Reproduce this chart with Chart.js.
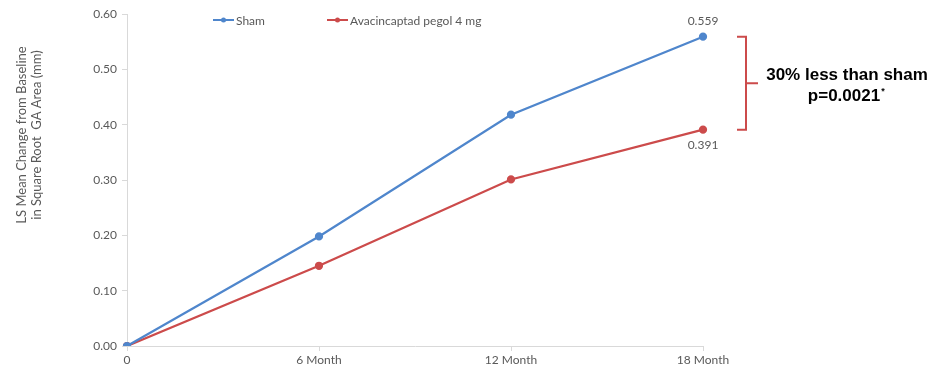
<!DOCTYPE html>
<html><head><meta charset="utf-8">
<script src="https://cdn.jsdelivr.net/npm/chart.js@4"></script>
<style>html,body{margin:0;padding:0;background:#fff}#wrap{width:930px;height:370px}</style>
</head><body><div id="wrap"><canvas id="c" width="930" height="370"></canvas></div>
<script>
const categories = ['0', '6 Month', '12 Month', '18 Month'];
const shamValues = [0, 0.198, 0.418, 0.559];
const avaValues = [0, 0.145, 0.301, 0.391];
const seriesNames = ['Sham', 'Avacincaptad pegol 4 mg'];
const yAxisTitle = ['LS Mean Change from Baseline', 'in Square Root  GA Area (mm)'];
const annotationLines = ['30% less than sham', 'p=0.0021'];
const annotationMark = '*';

const BLUE = '#4f86cc', RED = '#cc4b4b', GREY = '#595959', AXIS = '#d9d9d9';
const FONT = 'Lato';

const overlay = {
  id: 'overlay',
  afterDatasetsDraw(chart) {
    const ctx = chart.ctx;
    const y = chart.scales.y;
    const m0 = chart.getDatasetMeta(0), m1 = chart.getDatasetMeta(1);
    const last = categories.length - 1;
    ctx.save();
    // y axis title
    ctx.save();
    ctx.translate(22, 135); ctx.rotate(-Math.PI / 2);
    ctx.font = '13px ' + FONT; ctx.fillStyle = GREY; ctx.textAlign = 'center'; ctx.textBaseline = 'middle';
    ctx.fillText(yAxisTitle[0], 0, 0);
    ctx.fillText(yAxisTitle[1], 0, 15);
    ctx.restore();
    // data labels
    ctx.font = '12px ' + FONT; ctx.fillStyle = GREY; ctx.textAlign = 'center';
    const p0 = m0.data[last], p1 = m1.data[last];
    ctx.textBaseline = 'bottom';
    ctx.fillText(shamValues[last].toFixed(3), p0.x, p0.y - 10);
    ctx.textBaseline = 'top';
    ctx.fillText(avaValues[last].toFixed(3), p1.x, p1.y + 9);
    // legend
    const items = [{x: 213, c: BLUE, t: seriesNames[0]}, {x: 327, c: RED, t: seriesNames[1]}];
    const ly = 20;
    items.forEach(it => {
      ctx.strokeStyle = it.c; ctx.lineWidth = 2;
      ctx.beginPath(); ctx.moveTo(it.x, ly); ctx.lineTo(it.x + 21, ly); ctx.stroke();
      ctx.fillStyle = it.c; ctx.beginPath(); ctx.arc(it.x + 10.5, ly, 2.5, 0, Math.PI * 2); ctx.fill();
      ctx.fillStyle = GREY; ctx.textAlign = 'left'; ctx.textBaseline = 'middle';
      ctx.font = '12px ' + FONT;
      ctx.fillText(it.t, it.x + 23, ly + 1);
    });
    // bracket
    const yTop = y.getPixelForValue(shamValues[last]);
    const yBot = y.getPixelForValue(avaValues[last]);
    const bx = p0.x + 34, bx2 = bx + 9;
    const mid = (yTop + yBot) / 2;
    ctx.strokeStyle = RED; ctx.lineWidth = 2;
    ctx.beginPath();
    ctx.moveTo(bx, yTop); ctx.lineTo(bx2, yTop); ctx.lineTo(bx2, yBot); ctx.lineTo(bx, yBot);
    ctx.moveTo(bx2, mid); ctx.lineTo(bx2 + 12, mid);
    ctx.stroke();
    // annotation text
    ctx.fillStyle = '#000'; ctx.font = 'bold 17px "Liberation Sans"';
    ctx.textAlign = 'center'; ctx.textBaseline = 'middle';
    const cx = 847;
    ctx.fillText(annotationLines[0], cx, mid - 8);
    const w = ctx.measureText(annotationLines[1]).width;
    ctx.fillText(annotationLines[1], cx - 3, mid + 13);
    ctx.font = 'bold 9px "Liberation Sans"'; ctx.textAlign = 'left';
    ctx.fillText(annotationMark, cx - 3 + w / 2 + 1, mid + 8);
    ctx.restore();
  }
};

new Chart(document.getElementById('c'), {
  type: 'line',
  data: {
    labels: categories,
    datasets: [
      {label: seriesNames[0], data: shamValues, borderColor: BLUE, backgroundColor: BLUE, borderWidth: 2.25, pointRadius: 3, pointHoverRadius: 3, tension: 0},
      {label: seriesNames[1], data: avaValues, borderColor: RED, backgroundColor: RED, borderWidth: 2.25, pointRadius: 3, pointHoverRadius: 3, tension: 0}
    ]
  },
  options: {
    responsive: false, animation: false,
    layout: {padding: {left: 0, right: 227, top: 14, bottom: 0}},
    plugins: {legend: {display: false}, tooltip: {enabled: false}},
    scales: {
      x: {
        offset: false,
        grid: {drawOnChartArea: false, drawTicks: true, tickLength: 5, color: AXIS},
        border: {display: true, color: AXIS, width: 1},
        ticks: {color: GREY, font: {family: FONT, size: 12}, padding: 2, maxRotation: 0},
        afterFit(s) { s.height = 24; }
      },
      y: {
        min: 0, max: 0.6,
        grid: {drawOnChartArea: false, drawTicks: true, tickLength: 5, color: AXIS},
        border: {display: true, color: AXIS, width: 1},
        ticks: {stepSize: 0.1, color: GREY, font: {family: FONT, size: 12}, padding: 5, callback: v => v.toFixed(2)},
        afterFit(s) { s.width = 127; }
      }
    }
  },
  plugins: [overlay]
});
</script></body></html>
